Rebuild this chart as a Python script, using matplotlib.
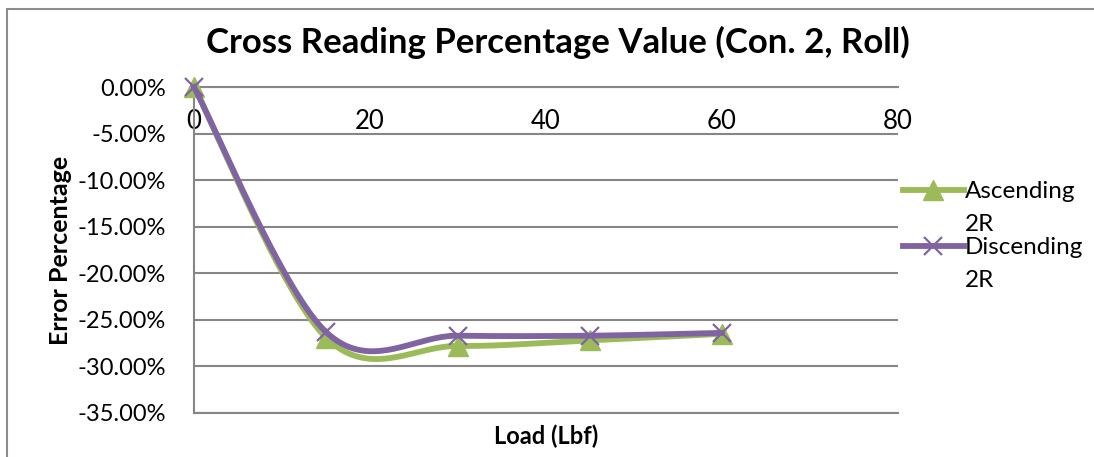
import matplotlib
matplotlib.use('Agg')
import matplotlib.pyplot as plt
import numpy as np
from matplotlib.patches import Rectangle
from matplotlib.ticker import FuncFormatter

plt.rcParams['font.family'] = ['Lato', 'DejaVu Sans']

load = [0, 15, 30, 45, 60]
ascending = [0.0, -26.9, -27.8, -27.2, -26.5]
descending = [0.0, -26.3, -26.7, -26.7, -26.4]
labels = ['Ascending', 'Discending']
yticks = [0, -5, -10, -15, -20, -25, -30, -35]
xticks = [0, 20, 40, 60, 80]


def smooth(x, y, n=40):
    # Excel-like smoothed line: cubic bezier between points
    x = np.asarray(x, float)
    y = np.asarray(y, float)
    px = np.concatenate([[x[0]], x, [x[-1]]])
    py = np.concatenate([[y[0]], y, [y[-1]]])
    xs, ys = [], []
    t = np.linspace(0, 1, n)
    for i in range(1, len(px) - 2):
        p0 = np.array([px[i], py[i]])
        p3 = np.array([px[i + 1], py[i + 1]])
        c1 = p0 + (np.array([px[i + 1], py[i + 1]]) - np.array([px[i - 1], py[i - 1]])) / 6
        c2 = p3 - (np.array([px[i + 2], py[i + 2]]) - np.array([px[i], py[i]])) / 6
        b = ((1 - t) ** 3)[:, None] * p0 + (3 * (1 - t) ** 2 * t)[:, None] * c1 \
            + (3 * (1 - t) * t ** 2)[:, None] * c2 + (t ** 3)[:, None] * p3
        xs.extend(b[:, 0])
        ys.extend(b[:, 1])
    return np.array(xs), np.array(ys)


fig = plt.figure(figsize=(10.94, 4.57), dpi=100)
fig.patches.append(Rectangle((7 / 1094, -0.1), 1.2, 1 - 9 / 457 + 0.1, transform=fig.transFigure,
                             fill=False, edgecolor='#8c8c8c', linewidth=1.5))
ax = fig.add_axes([194 / 1094, 1 - 413 / 457, 704 / 1094, 326 / 457])

green = '#9BBB59'
purple = '#8064A2'
lw = 4.2
sx, sy = smooth(load, ascending)
ax.plot(sx, sy, color=green, lw=lw, clip_on=False, zorder=3)
ax.plot(load, ascending, ls='none', marker='^', color=green, ms=14, clip_on=False, zorder=3)
sx, sy = smooth(load, descending)
ax.plot(sx, sy, color=purple, lw=lw, clip_on=False, zorder=4)
ax.plot(load, descending, ls='none', marker='x', color=purple, ms=13, mew=1.6, clip_on=False, zorder=4)

ax.set_xlim(0, 80)
ax.set_ylim(-35, 0)
ax.set_xticks(xticks)
ax.set_yticks(yticks)
ax.yaxis.set_major_formatter(FuncFormatter(lambda v, p: '%.2f%%' % v))
for s in ['top', 'right']:
    ax.spines[s].set_visible(False)
ax.spines['bottom'].set_position(('data', 0))
ax.spines['bottom'].set_color('#868686')
ax.spines['bottom'].set_linewidth(1.5)
ax.spines['left'].set_color('#868686')
ax.spines['left'].set_linewidth(1.5)
ax.grid(axis='y', color='#868686', lw=1.5)
ax.axhline(-35, color='#868686', lw=1.5, clip_on=False)
ax.set_axisbelow(True)
ax.tick_params(axis='x', length=0, pad=16, labelsize=18.5)
ax.tick_params(axis='y', length=0, pad=20, labelsize=17)

fig.text(558 / 1094, 1 - 42 / 457, 'Cross Reading Percentage Value (Con. 2, Roll)',
         ha='center', va='center', fontsize=25, fontweight='bold')
fig.text(546 / 1094, 1 - 436 / 457, 'Load (Lbf)', ha='center', va='center',
         fontsize=17, fontweight='bold')
fig.text(60 / 1094, 1 - 250 / 457, 'Error Percentage', ha='center', va='center',
         rotation=90, fontsize=18, fontweight='bold')

h1 = plt.Line2D([], [], color=green, lw=lw, marker='^', ms=14)
h2 = plt.Line2D([], [], color=purple, lw=lw, marker='x', ms=13, mew=1.6)
leg = fig.legend([h1, h2], labels, loc='upper left', bbox_to_anchor=(903 / 1094, 1 - 181 / 457),
                 frameon=False, fontsize=17.5, handlelength=2.5, handletextpad=0.05,
                 labelspacing=1.45, borderaxespad=0, borderpad=0)
fig.canvas.draw()
for t in leg.get_texts():
    bb = t.get_window_extent()
    fig.text(bb.x0 / 1094, (bb.y0 + bb.y1) / 2 / 457 - 33 / 457, '2R', ha='left', va='center', fontsize=17.5)

fig.savefig('out.png', dpi=100)
